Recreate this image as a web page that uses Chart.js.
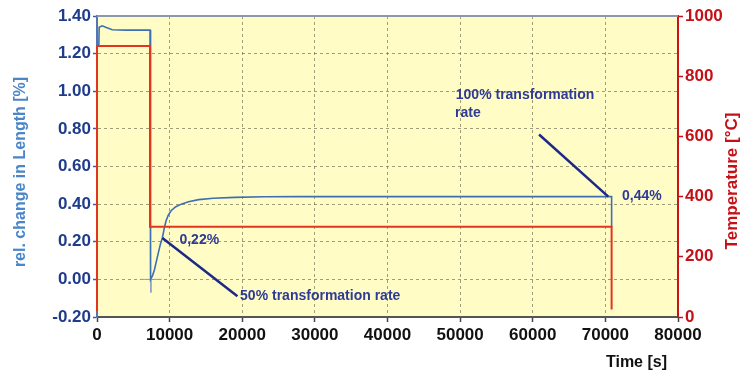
<!DOCTYPE html>
<html lang="en">
<head>
<meta charset="UTF-8">
<title>Dilatometer curve</title>
<script src="https://cdn.jsdelivr.net/npm/chart.js"></script>
<style>
    body { margin: 0; background: #fff; }
    #wrap { width: 741px; height: 376px; }
</style>
</head>
<body>
<div id="wrap"><canvas id="dilChart"></canvas></div>
<script>
// relative change in length [%] over time [s]
const lenTime = [250, 300, 700, 1200, 2100, 4000, 7300, 7330, 7420, 7650, 7900, 8200, 8500, 8750, 9000, 9250, 9500, 9800, 10200, 10800, 11600, 12600, 14000, 16000, 19000, 23000, 28000, 70860, 70860];
const lenPct  = [1.24, 1.34, 1.348, 1.34, 1.327, 1.325, 1.325, 0.10, 0.00, 0.02, 0.05, 0.10, 0.15, 0.19, 0.22, 0.27, 0.31, 0.34, 0.365, 0.385, 0.40, 0.413, 0.424, 0.431, 0.436, 0.439, 0.44, 0.44, 0.28];

// furnace temperature [°C]
const tempTime = [0, 0, 7300, 7300, 70860, 70860];
const tempC    = [20, 900, 900, 300, 300, 25];

// cursor cross at the length minimum
const crossTime = [5900, 8900, null, 7420, 7420];
const crossPct  = [0.0, 0.0, null, 0.0, -0.07];

// leader lines for the annotations
const lead50Time = [9000, 19340];
const lead50Pct  = [0.22, -0.09];
const lead100Time = [60870, 70400];
const lead100Pct  = [0.77, 0.44];

// tick setup
const timeTicks = { min: 0, max: 80000, step: 10000 };
const lenTicks  = { min: -0.2, max: 1.4, step: 0.2 };
const tempTicks = { min: 0, max: 1000, step: 200 };

// annotation texts: [text, time, length value]
const notes = [
    ['0,22%', 11350, 0.21],
    ['50% transformation rate', 19700, -0.09],
    ['100% transformation', 49400, 0.98],
    ['rate', 49300, 0.885],
    ['0,44%', 72300, 0.44]
];

const pts = (xs, ys) => xs.map((x, i) => (x === null ? { x: NaN, y: NaN } : { x: x, y: ys[i] }));

const navy = '#1c2a86';
const gridCol = 'rgba(95,95,70,0.6)';
const tickFont = { family: '"Liberation Sans", Arial', size: 17, weight: 'bold' };

const plotDecor = {
    id: 'plotDecor',
    beforeDraw(chart) {
        const { ctx, chartArea: a } = chart;
        ctx.save();
        ctx.fillStyle = '#fffcc6';
        ctx.fillRect(a.left, a.top, a.right - a.left, a.bottom - a.top);
        ctx.restore();
    },
    afterDraw(chart) {
        const { ctx, chartArea: a, scales } = chart;
        ctx.save();
        // top frame
        ctx.strokeStyle = '#8d96ab';
        ctx.lineWidth = 2;
        ctx.beginPath();
        ctx.moveTo(a.left, a.top);
        ctx.lineTo(a.right, a.top);
        ctx.stroke();

        // notes
        ctx.fillStyle = '#2e3b96';
        ctx.font = 'bold 14px "Liberation Sans", Arial, sans-serif';
        ctx.textBaseline = 'middle';
        ctx.textAlign = 'left';
        notes.forEach(n => {
            ctx.fillText(n[0], scales.x.getPixelForValue(n[1]), scales.y.getPixelForValue(n[2]));
        });

        // axis titles
        ctx.font = 'bold 16px "Liberation Sans", Arial, sans-serif';
        ctx.fillStyle = '#4a86c8';
        ctx.textAlign = 'center';
        ctx.translate(21, 172);
        ctx.rotate(-Math.PI / 2);
        ctx.fillText('rel. change in Length [%]', 0, 0);
        ctx.setTransform(1, 0, 0, 1, 0, 0);

        ctx.font = 'bold 17px "Liberation Sans", Arial, sans-serif';
        ctx.fillStyle = '#c41016';
        ctx.translate(732, 181);
        ctx.rotate(-Math.PI / 2);
        ctx.fillText('Temperature [°C]', 0, 0);
        ctx.setTransform(1, 0, 0, 1, 0, 0);

        ctx.font = 'bold 16px "Liberation Sans", Arial, sans-serif';
        ctx.fillStyle = '#111';
        ctx.textAlign = 'right';
        ctx.fillText('Time [s]', a.right - 11, 363);
        ctx.restore();
    }
};

new Chart(document.getElementById('dilChart'), {
    type: 'line',
    data: {
        datasets: [
            {
                data: pts(lead50Time, lead50Pct), yAxisID: 'y',
                borderColor: navy, borderWidth: 2.5, order: 0
            },
            {
                data: pts(lead100Time, lead100Pct), yAxisID: 'y',
                borderColor: navy, borderWidth: 2.5, order: 0
            },
            {
                data: pts(tempTime, tempC), yAxisID: 'y2',
                borderColor: '#e2341f', borderWidth: 2, order: 1, clip: false
            },
            {
                data: pts(lenTime, lenPct), yAxisID: 'y',
                borderColor: '#3d6fb3', borderWidth: 1.6, order: 2, clip: false
            },
            {
                data: pts(crossTime, crossPct), yAxisID: 'y', spanGaps: false,
                borderColor: '#8aa0c2', borderWidth: 1, order: 3
            }
        ]
    },
    options: {
        responsive: true,
        maintainAspectRatio: false,
        animation: false,
        events: [],
        elements: { point: { radius: 0 }, line: { tension: 0, borderCapStyle: 'butt' } },
        layout: { padding: { top: 16, left: 0, right: 0, bottom: 0 } },
        plugins: { legend: { display: false }, tooltip: { enabled: false } },
        scales: {
            x: {
                type: 'linear',
                min: timeTicks.min, max: timeTicks.max,
                afterFit: s => { s.height = 59; },
                ticks: {
                    stepSize: timeTicks.step, padding: 3, color: '#111',
                    font: tickFont,
                    callback: v => String(v)
                },
                grid: {
                    color: gridCol, tickLength: 5,
                    tickColor: '#444', tickWidth: 1.5
                },
                border: { color: '#555', width: 2, dash: [3, 3] }
            },
            y: {
                position: 'left',
                min: lenTicks.min, max: lenTicks.max,
                afterFit: s => { s.width = 97; },
                ticks: {
                    stepSize: lenTicks.step, padding: 2, color: '#1f3c8c',
                    font: tickFont,
                    callback: v => (Math.round(v * 100) / 100 + 0).toFixed(2)
                },
                grid: {
                    color: gridCol, tickLength: 4,
                    tickColor: '#3a5ea8', tickWidth: 1.5
                },
                border: { color: '#5574b5', width: 2, dash: [3, 3] }
            },
            y2: {
                position: 'right',
                min: tempTicks.min, max: tempTicks.max,
                afterFit: s => { s.width = 63; },
                ticks: {
                    stepSize: tempTicks.step, padding: 2, color: '#c41016',
                    font: tickFont,
                    callback: v => String(v)
                },
                grid: {
                    drawOnChartArea: false, tickLength: 5,
                    tickColor: '#c41016', tickWidth: 1.5
                },
                border: { color: '#c8141a', width: 2 }
            }
        }
    },
    plugins: [plotDecor]
});
</script>
</body>
</html>
